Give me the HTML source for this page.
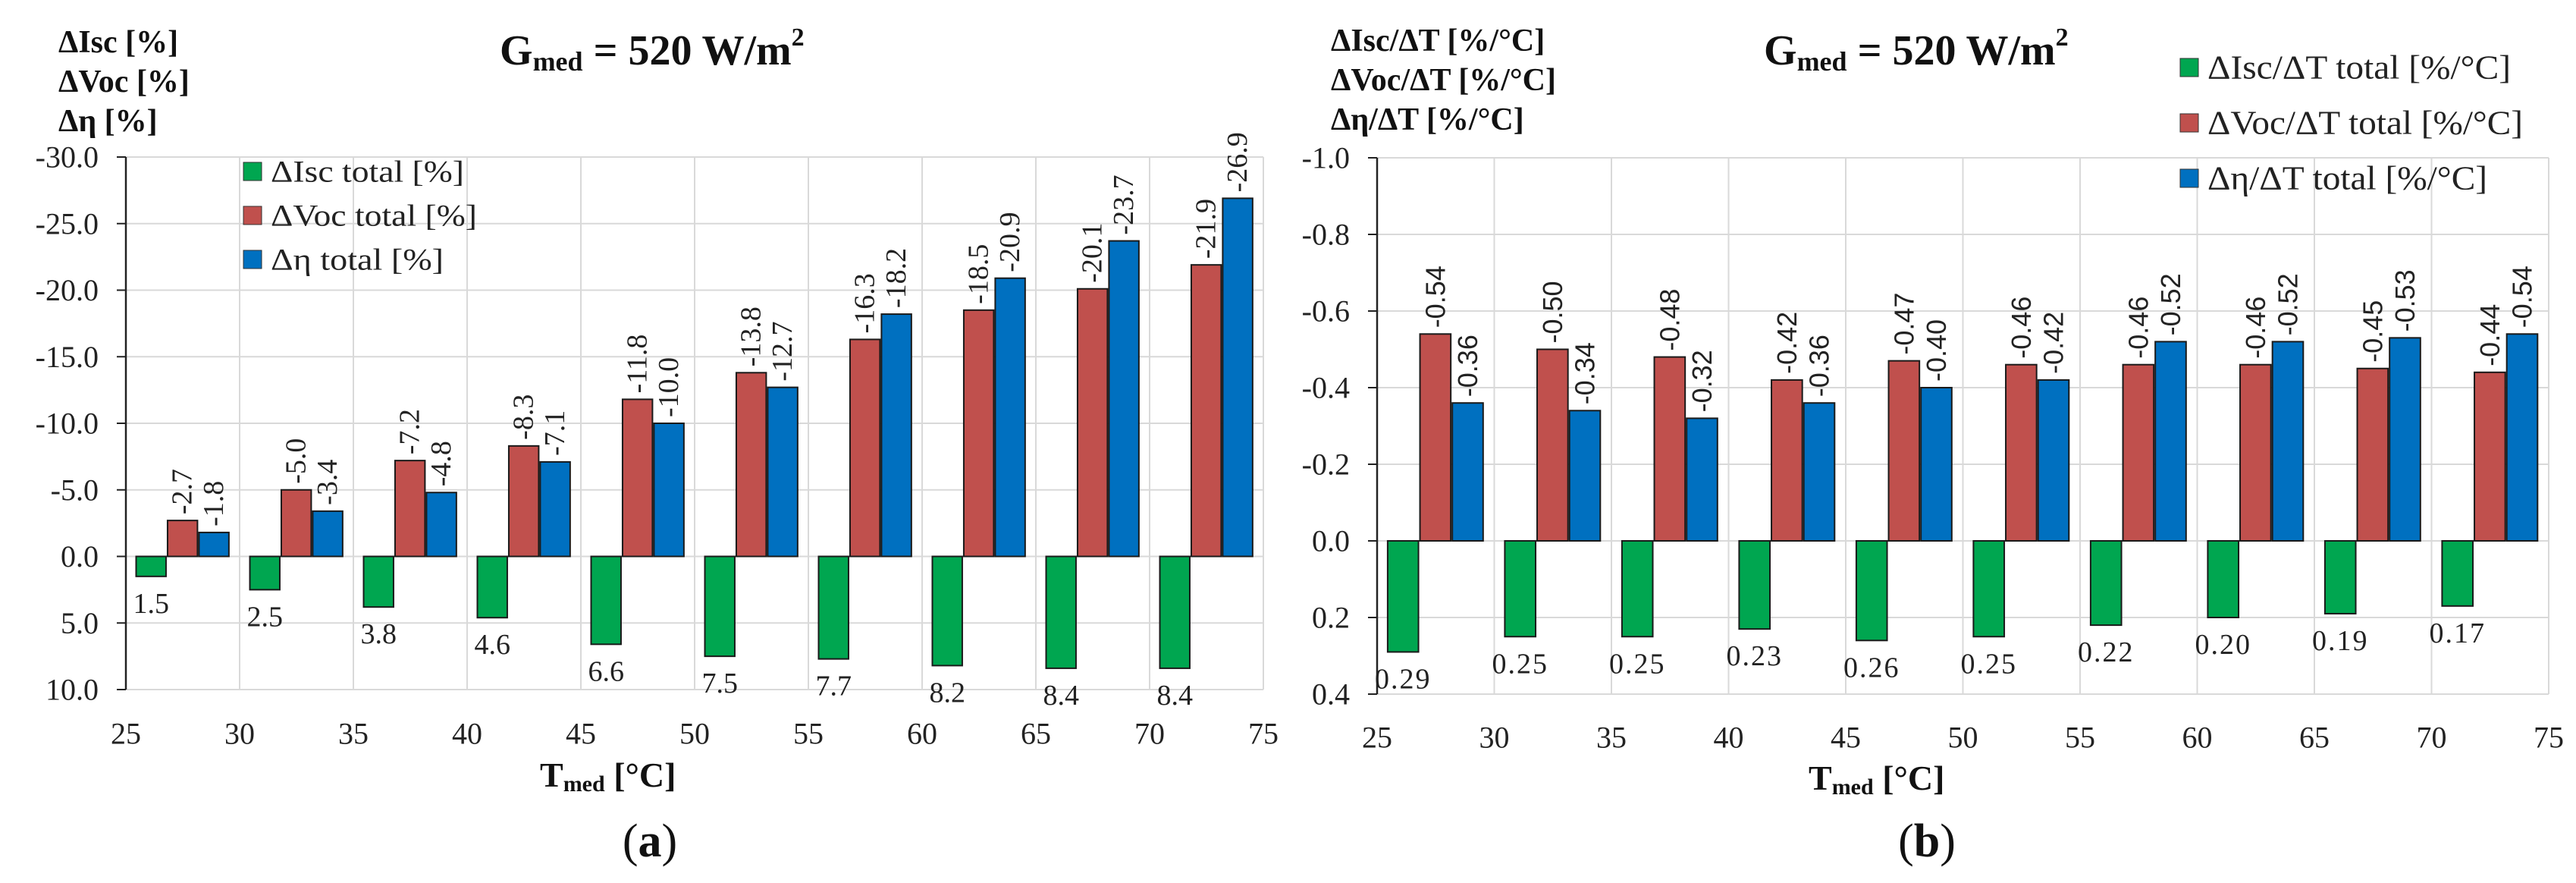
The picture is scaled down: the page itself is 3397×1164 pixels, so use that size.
<!DOCTYPE html>
<html><head><meta charset="utf-8"><style>
html,body{margin:0;padding:0;background:#fff;}
svg{display:block;font-family:"Liberation Serif",serif;}
</style></head><body>
<svg id="fig" width="3397" height="1164" viewBox="0 0 3397 1164" xmlns="http://www.w3.org/2000/svg">
<rect width="3397" height="1164" fill="#fff"/>
<g id="ca"></g>
<g id="cb"></g>
</svg>
<script>
const xTicks = [25,30,35,40,45,50,55,60,65,70,75];
const categories = [25,30,35,40,45,50,55,60,65,70];
const aIsc = [1.5,2.5,3.8,4.6,6.6,7.5,7.7,8.2,8.4,8.4];
const aVoc = [-2.7,-5.0,-7.2,-8.3,-11.8,-13.8,-16.3,-18.5,-20.1,-21.9];
const aEta = [-1.8,-3.4,-4.8,-7.1,-10.0,-12.7,-18.2,-20.9,-23.7,-26.9];
const aYTicks = [-30,-25,-20,-15,-10,-5,0,5,10];
const bIsc = [0.29,0.25,0.25,0.23,0.26,0.25,0.22,0.20,0.19,0.17];
const bVoc = [-0.54,-0.50,-0.48,-0.42,-0.47,-0.46,-0.46,-0.46,-0.45,-0.44];
const bEta = [-0.36,-0.34,-0.32,-0.36,-0.40,-0.42,-0.52,-0.52,-0.53,-0.54];
const bYTicks = [-1.0,-0.8,-0.6,-0.4,-0.2,0.0,0.2,0.4];
const aLegend = ["ΔIsc total [%]","ΔVoc total [%]","Δη total [%]"];
const bLegend = ["ΔIsc/ΔT total [%/°C]","ΔVoc/ΔT total [%/°C]","Δη/ΔT total [%/°C]"];
const COLORS = ["#00a650","#c0504d","#0070c0"];
const NS = "http://www.w3.org/2000/svg";
function mk(parent, tag, attrs, text){
  const e = document.createElementNS(NS, tag);
  for (const k in attrs) e.setAttribute(k, attrs[k]);
  if (text !== undefined) e.textContent = text;
  parent.appendChild(e);
  return e;
}
function drawChart(g, cfg){
  const xS = v => cfg.x0 + (v-25)*(cfg.x1-cfg.x0)/50;
  const yS = v => cfg.yTop + (v-cfg.yMin)*(cfg.yBot-cfg.yTop)/(cfg.yMax-cfg.yMin);
  cfg.yTicks.forEach(t=>{
    const l = mk(g,'line',{x1:cfg.x0,x2:cfg.x1,y1:yS(t),y2:yS(t),stroke:'#d9d9d9','stroke-width':2});
    
    
    const tk = mk(g,'line',{x1:cfg.x0-12,x2:cfg.x0,y1:yS(t),y2:yS(t),stroke:'#222','stroke-width':2});
    
    
    const tl = mk(g,'text',{x:cfg.x0-36,y:yS(t),'text-anchor':'end','dominant-baseline':'central','font-size':40,fill:'#222'}, t.toFixed(1));
    
    
  });
  xTicks.forEach(t=>{
    if (t>25){
      const l = mk(g,'line',{x1:xS(t),x2:xS(t),y1:cfg.yTop,y2:cfg.yBot,stroke:'#d9d9d9','stroke-width':2});
      
      
    }
    const tl = mk(g,'text',{x:xS(t),y:cfg.xLabY,'text-anchor':'middle','dominant-baseline':'central','font-size':40,fill:'#222'}, String(t));
    
    
  });
  const ax = mk(g,'line',{x1:cfg.x0,x2:cfg.x0,y1:cfg.yTop,y2:cfg.yBot,stroke:'#222','stroke-width':2.5});
  
  
  const step = (cfg.x1-cfg.x0)/categories.length;
  const bw = step*0.263, gap = step*0.09;
  const series = [cfg.isc, cfg.voc, cfg.eta];
  const names = ['isc','voc','eta'];
  categories.forEach((c,i)=>{
    series.forEach((s,k)=>{
      const v = s[i];
      const bx = xS(c) + gap + k*(bw+2);
      const y0 = yS(0), yv = yS(v);
      const r = mk(g,'rect',{x:bx,y:Math.min(y0,yv),width:bw,height:Math.abs(yv-y0),fill:COLORS[k],stroke:'#1a1a1a','stroke-width':2});
      
      
      const cx = bx+bw/2;
      const txt = v.toFixed(cfg.dec);
      if (k===0){
        const t = mk(g,'text',{x:cx,y:Math.max(y0,yv)+36,'text-anchor':'middle','dominant-baseline':'central','font-size':38,fill:'#222','letter-spacing':cfg.dec===2?2:0}, txt);
        
        
      } else {
        const ty = Math.min(y0,yv)-8;
        const t = mk(g,'text',{x:cx,y:ty,'text-anchor':'start','dominant-baseline':'central','font-size':cfg.dec===2?36:38,fill:'#222','font-family':cfg.dec===2?'"Liberation Sans",sans-serif':'"Liberation Serif",serif',transform:'rotate(-90 '+cx+' '+ty+')'}, txt);
        
        
      }
    });
  });
  cfg.legend.forEach((n,k)=>{
    const ly = cfg.legY + k*cfg.legStep;
    const sq = mk(g,'rect',{x:cfg.legX,y:ly-12,width:24,height:24,fill:COLORS[k],stroke:'#333','stroke-width':1});
    
    
    const t = mk(g,'text',{x:cfg.legX+36,y:ly,'dominant-baseline':'central','font-size':cfg.legFont,fill:'#222',textLength:cfg.legLen[k],lengthAdjust:'spacingAndGlyphs'}, n);
    
    
  });
  cfg.yTitle.forEach((s,k)=>{
    const t = mk(g,'text',{x:cfg.yTitleX,y:cfg.yTitleY+k*52,'dominant-baseline':'central','font-size':42,'font-weight':'bold',fill:'#111'}, s);
    
    
  });
  const tt = mk(g,'text',{x:cfg.titleX,y:67,'dominant-baseline':'central','font-size':56,'font-weight':'bold',fill:'#111'});
  
  
  mk(tt,'tspan',{},'G');
  mk(tt,'tspan',{'font-size':36,dy:14},'med');
  mk(tt,'tspan',{dy:-14},' = 520 W/m');
  mk(tt,'tspan',{'font-size':34,dy:-18},'2');
  const xt = mk(g,'text',{x:cfg.xTitleX,y:cfg.xTitleY,'dominant-baseline':'central','font-size':46,'font-weight':'bold',fill:'#111'});
  
  
  mk(xt,'tspan',{},'T');
  mk(xt,'tspan',{'font-size':30,dy:12},'med');
  mk(xt,'tspan',{dy:-12},' [°C]');
  const pl = mk(g,'text',{x:cfg.panelX,y:1109,'text-anchor':'middle','dominant-baseline':'central','font-size':62,fill:'#111'});
  
  
  mk(pl,'tspan',{},'(');
  mk(pl,'tspan',{'font-weight':'bold'},cfg.panel);
  mk(pl,'tspan',{},')');
}
drawChart(document.getElementById('ca'),{
  x0:166,x1:1666,yTop:207,yBot:909,yMin:-30,yMax:10,yTicks:aYTicks,xLabY:967,
  isc:aIsc,voc:aVoc,eta:aEta,dec:1,
  legend:aLegend,legX:321,legY:226,legStep:58,legLen:[255,272,228],legFont:40,
  yTitle:["ΔIsc [%]","ΔVoc [%]","Δη [%]"],yTitleX:77,yTitleY:56,
  titleX:659,xTitleX:712,xTitleY:1021,panelX:857,panel:'a'
});
drawChart(document.getElementById('cb'),{
  x0:1816,x1:3361,yTop:208,yBot:915,yMin:-1.0,yMax:0.4,yTicks:bYTicks,xLabY:972,
  isc:bIsc,voc:bVoc,eta:bEta,dec:2,
  legend:bLegend,legX:2875,legY:89,legStep:73,legLen:[400,416,369],legFont:44,
  yTitle:["ΔIsc/ΔT [%/°C]","ΔVoc/ΔT  [%/°C]","Δη/ΔT  [%/°C]"],yTitleX:1755,yTitleY:54,
  titleX:2326,xTitleX:2385,xTitleY:1025,panelX:2541,panel:'b'
});
</script>
</body></html>
